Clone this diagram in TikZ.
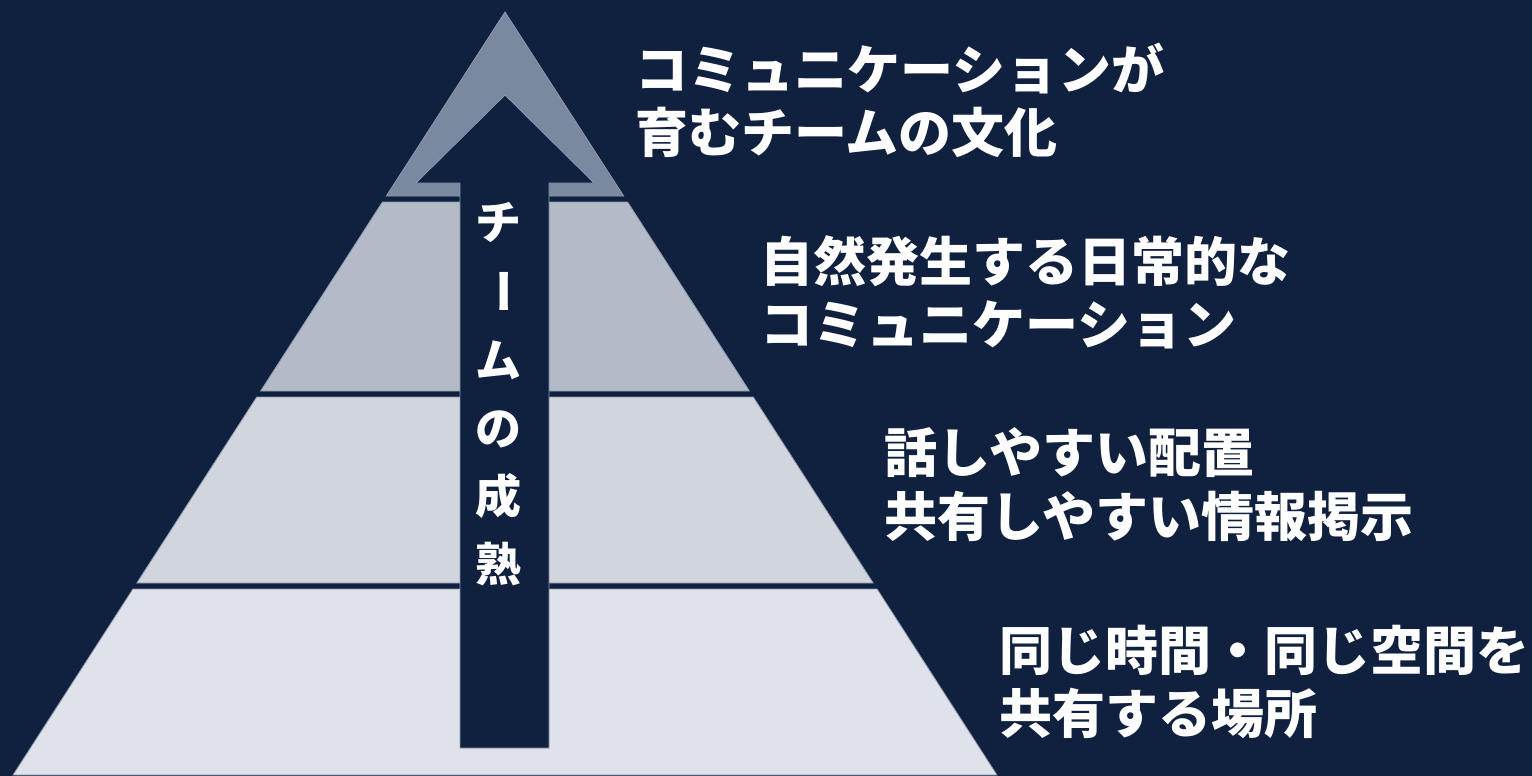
\documentclass[tikz,border=0pt]{standalone}
\usepackage{fontspec}
\newfontfamily\jp{Noto Sans CJK JP}
\definecolor{bgnavy}{HTML}{10203F}
\definecolor{layerA}{HTML}{7A89A0}
\definecolor{layerB}{HTML}{B4BBC8}
\definecolor{layerC}{HTML}{D1D5DD}
\definecolor{layerD}{HTML}{DFE2EA}
\definecolor{edgegray}{HTML}{8C97AA}
\tikzset{
  layerstyle/.style={draw=edgegray, line width=0.8pt, line join=miter},
  arrowbody/.style={fill=bgnavy, draw=edgegray, line width=0.8pt},
  label/.style={text=white, inner sep=0pt, anchor=base west,
    font=\jp\bfseries\fontsize{53}{64}\selectfont},
  vchar/.style={text=white, inner sep=0pt,
    font=\jp\bfseries\fontsize{46}{50}\selectfont}
}
\begin{document}
\begin{tikzpicture}[x=1pt,y=-1pt]
\fill[bgnavy] (0,0) rectangle (1532,776);
\useasboundingbox (0,0) rectangle (1532,776);
% pyramid edges: apex (505,12), base y=775 from x=13 to x=997
\coordinate (apex) at (505,12);
% layer 1 (top)
\filldraw[layerstyle, fill=layerA] (apex) -- (623.7,196) -- (386.3,196) -- cycle;
% layer 2
\filldraw[layerstyle, fill=layerB] (382.4,202) -- (627.6,202) -- (749.4,391) -- (260.6,391) -- cycle;
% layer 3
\filldraw[layerstyle, fill=layerC] (256.7,397) -- (753.3,397) -- (873.2,583) -- (136.8,583) -- cycle;
% layer 4
\filldraw[layerstyle, fill=layerD] (132.9,589) -- (877.1,589) -- (997,775) -- (13,775) -- cycle;
% growth arrow
\coordinate (tip) at (505,95);
\filldraw[arrowbody] (460,748) -- (460,183) -- (416,183) -- (tip) -- (594,183) -- (549,183) -- (549,748) -- cycle;
% vertical label
\node[vchar, anchor=base] (v1) at (498,239) {チ};
\node[vchar, rotate=-90] (v2) at (498,291) {ー};
\node[vchar, anchor=base] (v3) at (498,377) {ム};
\node[vchar, anchor=base] (v4) at (498,445) {の};
\node[vchar, anchor=base] (v5) at (498,513) {成};
\node[vchar, anchor=base] (v6) at (498,581) {熟};
% right labels
\node[label] (t1a) at (635,89) {コミュニケーションが};
\node[label] (t1b) at (635,152) {育むチームの文化};
\node[label] (t2a) at (760,281) {自然発生する日常的な};
\node[label] (t2b) at (760,344) {コミュニケーション};
\node[label] (t3a) at (884,472) {話しやすい配置};
\node[label] (t3b) at (884,536) {共有しやすい情報掲示};
\node[label] (t4a) at (999,670) {同じ時間・同じ空間を};
\node[label] (t4b) at (999,733) {共有する場所};
\end{tikzpicture}
\end{document}
